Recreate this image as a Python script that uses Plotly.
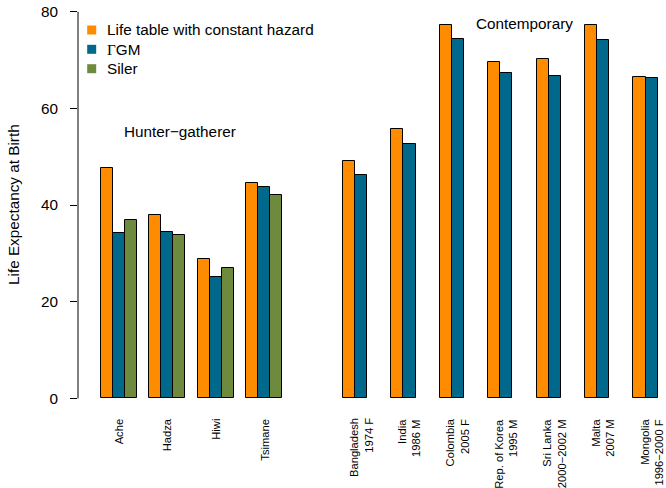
import plotly.graph_objects as go

# ---- data ----
hunter_labels = ["Ache", "Hadza", "Hiwi", "Tsimane"]
contemp_labels = ["Bangladesh<br>1974 F", "India<br>1986 M", "Colombia<br>2005 F",
                  "Rep. of Korea<br>1995 M", "Sri Lanka<br>2000−2002 M",
                  "Malta<br>2007 M", "Mongolia<br>1996−2000 F"]
life_table = [47.6, 38.0, 28.8, 44.5, 49.2, 55.8, 77.2, 69.6, 70.3, 77.3, 66.6]
gamma_gm = [34.2, 34.5, 25.1, 43.7, 46.3, 52.7, 74.3, 67.3, 66.8, 74.2, 66.3]
siler = [36.9, 33.9, 26.9, 42.0]
series_names = ["Life table with constant hazard",
                "<span style='font-family:Liberation Serif'>Γ</span>GM", "Siler"]
colors = ["#FF8C00", "#00688B", "#6E8B3D"]
y_ticks = [0, 20, 40, 60, 80]

labels = hunter_labels + contemp_labels
n_h = len(hunter_labels)
slots = list(range(n_h)) + [n_h + 1 + j for j in range(len(contemp_labels))]

FONT = "Liberation Sans, Arial, Helvetica, sans-serif"
L, T, PW, PH = 78, 4, 588, 410  # plot area in pixels


def px_x(p):
    return (p - L) / PW


def px_y(p):
    return (T + PH - p) / PH


fig = go.Figure()
for k, vals in enumerate([life_table, gamma_gm, siler]):
    xs = [4 * slots[i] + 1.5 + k for i in range(len(vals))]
    fig.add_trace(go.Bar(
        x=xs, y=vals, width=1, name=series_names[k],
        marker=dict(color=colors[k], line=dict(color="black", width=1)),
        showlegend=False, hoverinfo="skip"))

annotations = []
shapes = [dict(type="line", xref="paper", x0=0, x1=0, yref="y", y0=0, y1=80,
               line=dict(color="black", width=1))]

for i, lab in enumerate(labels):
    annotations.append(dict(
        x=4 * slots[i] + 2.5, xref="x", y=px_y(416.5), yref="paper",
        text=lab, textangle=-90, showarrow=False, xanchor="center", yanchor="top",
        align="right", font=dict(family=FONT, size=11.2, color="black")))

annotations.append(dict(x=7.53, xref="x", y=55.3, yref="y", text="Hunter−gatherer",
                        showarrow=False, xanchor="center", yanchor="middle",
                        font=dict(family=FONT, size=15.3, color="black")))
annotations.append(dict(x=36.04, xref="x", y=77.6, yref="y", text="Contemporary",
                        showarrow=False, xanchor="center", yanchor="middle",
                        font=dict(family=FONT, size=15.3, color="black")))

# y-axis title
annotations.append(dict(x=px_x(13), xref="paper", y=px_y(205), yref="paper",
                        text="Life Expectancy at Birth", textangle=-90, showarrow=False,
                        xanchor="center", yanchor="middle",
                        font=dict(family=FONT, size=15.3, color="black")))

# legend (keys + labels)
row_y = [30, 49.3, 68.7]
for k, name in enumerate(series_names):
    cy = row_y[k]
    shapes.append(dict(type="rect", xref="paper", yref="paper",
                       x0=px_x(87.2), x1=px_x(96.2), y0=px_y(cy + 4.5), y1=px_y(cy - 4.5),
                       fillcolor=colors[k], line=dict(width=0)))
    annotations.append(dict(x=px_x(104.5), xref="paper", y=px_y(cy), yref="paper",
                            text=name, showarrow=False, xanchor="left", yanchor="middle",
                            font=dict(family=FONT, size=15.3, color="black")))

fig.update_layout(
    width=666, height=488,
    margin=dict(l=L, r=666 - L - PW, t=T, b=488 - T - PH),
    plot_bgcolor="white", paper_bgcolor="white",
    barmode="overlay", bargap=0, showlegend=False,
    font=dict(family=FONT, size=15.3, color="black"),
    xaxis=dict(range=[-0.876, 47.69], visible=False, showgrid=False, zeroline=False),
    yaxis=dict(range=[-3.228, 81.614], tickvals=y_ticks, ticks="outside", ticklen=7,
               tickcolor="black", tickwidth=1, showline=False, showgrid=False,
               zeroline=False, ticklabelstandoff=9,
               tickfont=dict(family=FONT, size=15.3, color="black")),
    annotations=annotations,
    shapes=shapes,
)

fig.write_html("out.html")
